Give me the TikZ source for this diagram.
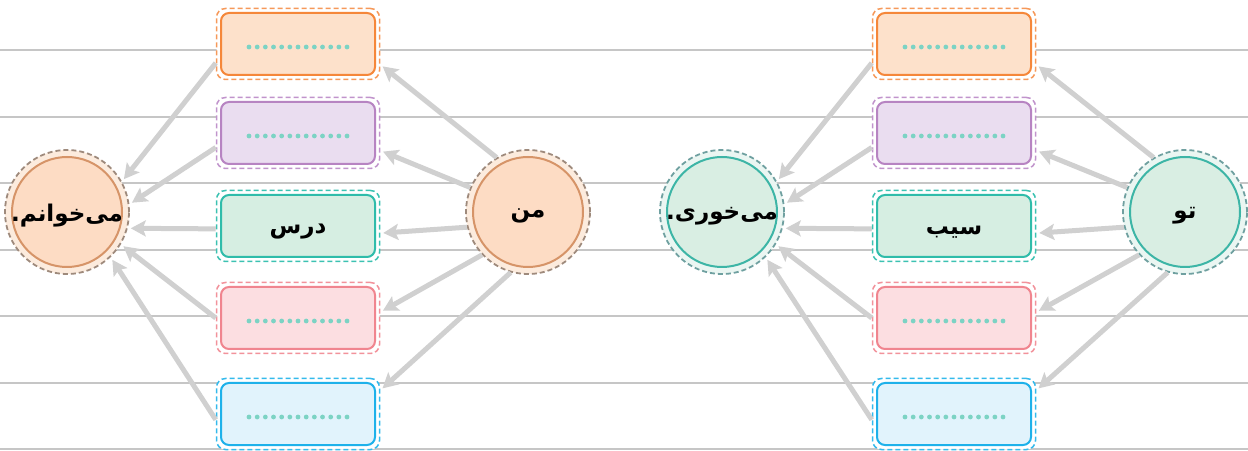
\documentclass[tikz,border=0pt]{standalone}
\usepackage{fontspec}
\newfontfamily\arabicfont[Script=Arabic]{DejaVu Sans}
\TeXXeTstate=1
\usetikzlibrary{arrows.meta,calc}

\definecolor{ruleGray}{HTML}{C6C6C6}
\definecolor{arrowGray}{HTML}{D0D0D0}
\definecolor{dotTeal}{HTML}{7CD3C4}
% box colours: fill, border, dashed ring
\definecolor{orFill}{HTML}{FDE1CB}\definecolor{orLine}{HTML}{F5873A}\definecolor{orDash}{HTML}{F6995A}
\definecolor{puFill}{HTML}{EADDF0}\definecolor{puLine}{HTML}{B784C2}\definecolor{puDash}{HTML}{C194CC}
\definecolor{gnFill}{HTML}{D6EEE2}\definecolor{gnLine}{HTML}{2FBCAA}\definecolor{gnDash}{HTML}{3CC2B2}
\definecolor{pkFill}{HTML}{FCDEE1}\definecolor{pkLine}{HTML}{F0858F}\definecolor{pkDash}{HTML}{F2929B}
\definecolor{blFill}{HTML}{E1F3FC}\definecolor{blLine}{HTML}{1EB1EA}\definecolor{blDash}{HTML}{34BAEC}
% word circles
\definecolor{coFill}{HTML}{FDDCC4}\definecolor{coLine}{HTML}{D69468}\definecolor{coDash}{HTML}{9E8A7C}\definecolor{coGap}{HTML}{FCEBDD}
\definecolor{ctFill}{HTML}{D9EEE3}\definecolor{ctLine}{HTML}{3DB5A6}\definecolor{ctDash}{HTML}{6FA0A0}\definecolor{ctGap}{HTML}{EAF6F2}

\newcommand{\fa}[1]{{\arabicfont\bfseries\beginR #1\endR}}

\begin{document}
\begin{tikzpicture}[
        x=1pt, y=1pt,
        rule/.style={draw=ruleGray, line width=1.3pt},
        link/.style={-{Stealth[length=15pt,width=16pt,inset=3pt]}, draw=arrowGray, line width=5pt, shorten >=3pt},
        slotring/.style={rectangle, rounded corners=9pt, draw=#1Dash, fill=white, line width=1.5pt, dash pattern=on 5pt off 3pt, minimum width=163pt, minimum height=71pt},
        slot/.style={rectangle, rounded corners=8pt, draw=#1Line, fill=#1Fill, line width=2pt, minimum width=154pt, minimum height=62pt},
        wordring/.style={circle, draw=#1Dash, fill=#1Gap, line width=1.8pt, dash pattern=on 5pt off 3pt, minimum size=124pt, inner sep=0pt},
        word/.style={circle, draw=#1Line, fill=#1Fill, line width=2pt, minimum size=110pt, inner sep=0pt},
        slottext/.style={inner sep=0pt, font=\fontsize{23}{27}\selectfont},
        wordtext/.style={inner sep=0pt, font=\fontsize{23}{27}\selectfont},
    ]
    \useasboundingbox (0,0) rectangle (1248,450);

    % ruled lines
    \foreach \y in {400,333,267,200,134,67,1}
    \draw[rule] (0,\y) -- (1248,\y);

    % Group A: man ... mi-khanam
    \node[wordring=co] (wA) at (67,238) {};
    \node[word=co] (wAc) at (wA) {};
    \node[wordtext] (wAt) at ([yshift=-4]wA.center) {\fa{می^^^^200cخوانم.}};
    \node[wordring=co] (cA) at (528,238) {};
    \node[word=co] (cAc) at (cA) {};
    \node[wordtext] (cAt) at ([yshift=-4]cA.center) {\fa{من}};
    \foreach \n/\y/\c in {1/406/or, 2/317/pu, 3/224/gn, 4/132/pk, 5/36/bl} {
        \node[slotring=\c] (rA\n) at (298,\y) {};
        \node[slot=\c] (sA\n) at (298,\y) {};
    }
    \node[slottext] (tA3) at ([yshift=-6]sA3.center) {\fa{درس}};

    % Group B: to ... mi-khori
    \node[wordring=ct] (wB) at (722,238) {};
    \node[word=ct] (wBc) at (wB) {};
    \node[wordtext] (wBt) at ([yshift=-4]wB.center) {\fa{می^^^^200cخوری.}};
    \node[wordring=ct] (cB) at (1185,238) {};
    \node[word=ct] (cBc) at (cB) {};
    \node[wordtext] (cBt) at ([yshift=-4]cB.center) {\fa{تو}};
    \foreach \n/\y/\c in {1/406/or, 2/317/pu, 3/224/gn, 4/132/pk, 5/36/bl} {
        \node[slotring=\c] (rB\n) at (954,\y) {};
        \node[slot=\c] (sB\n) at (954,\y) {};
    }
    \node[slottext] (tB3) at ([yshift=-6]sB3.center) {\fa{سیب}};

    % empty slots
    \foreach \g in {A,B}
    \foreach \n in {1,2,4,5}
    \foreach \k in {0,...,12}
    \fill[dotTeal] ($(s\g\n.center)+(-49+8.17*\k,-3)$) circle (2.4pt);

    % arrows
    \foreach \g in {A,B} {
        \foreach \n/\a/\b in {1/120/-14, 2/157/-12, 3/194/-5, 4/223/4, 5/254/16}
        \draw[link] (c\g.\a) -- (r\g\n.\b);
        \foreach \n/\a/\b in {1/193/29, 2/190/7, 3/182/-15, 4/180/-31, 5/184/-46}
        \draw[link] (r\g\n.\a) -- (w\g.\b);
    }
\end{tikzpicture}
\end{document}
